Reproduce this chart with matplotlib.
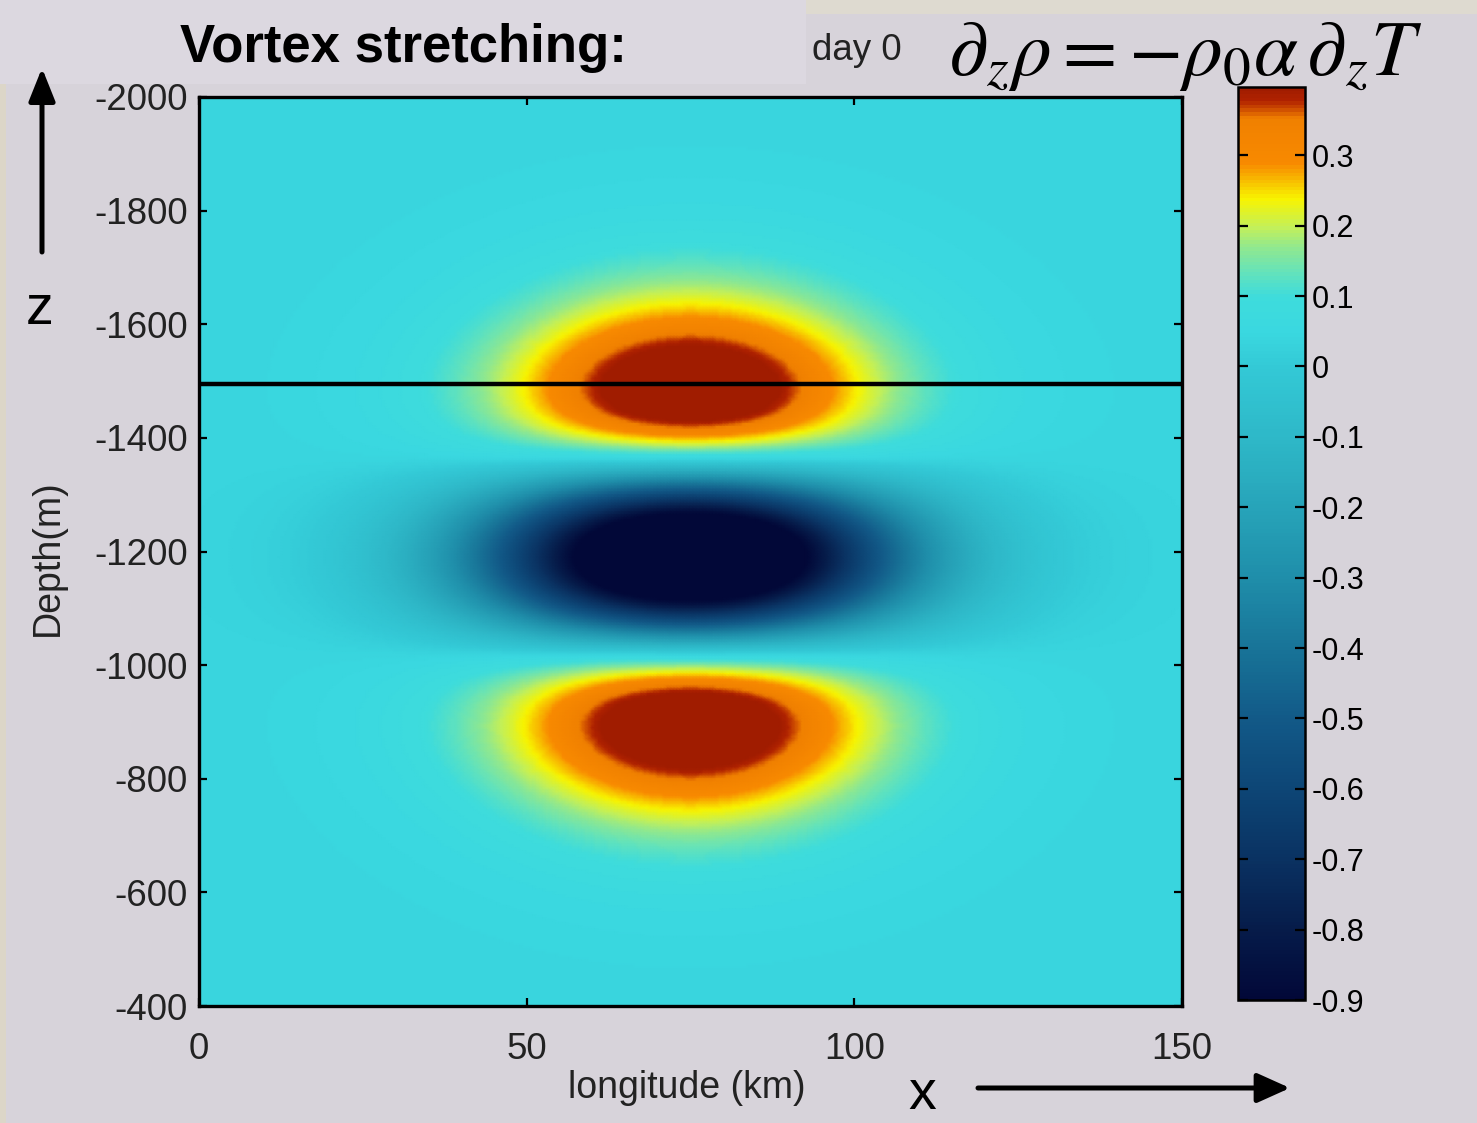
import numpy as np
import matplotlib
matplotlib.use("Agg")
import matplotlib.pyplot as plt
from matplotlib.colors import LinearSegmentedColormap
from matplotlib.patches import FancyArrowPatch, Rectangle

plt.rcParams['font.family'] = ['Liberation Sans', 'DejaVu Sans']
plt.rcParams['mathtext.fontset'] = 'stix'
plt.rcParams['axes.unicode_minus'] = False

# ---------------- data ----------------
x_range_km = [0, 150]
z_range_m = [-2000, -400]
x_ticks = [0, 50, 100, 150]
z_ticks = [-2000, -1800, -1600, -1400, -1200, -1000, -800, -600, -400]
cbar_ticks = [-0.9, -0.8, -0.7, -0.6, -0.5, -0.4, -0.3, -0.2, -0.1, 0, 0.1, 0.2, 0.3]
color_limits = [-0.9, 0.397]

# lens (temperature anomaly) parameters
lens_center_x = 75.0      # km
lens_center_z = -1190.0   # m
lens_sigma_z = 172.0      # m
lobe_sigma_x = 20.0       # km, warm lobes
core_sigma_x = 22.0       # km, cold core
lobe_amplitude = 1.0
core_amplitude = 1.3
background_value = 0.04
section_depth = -1495.0   # black horizontal line

# colormap nodes (value, colour)
cmap_values = [-0.9, -0.8, -0.7, -0.6, -0.5, -0.4, -0.3, -0.2, -0.1, 0.0, 0.05,
               0.1, 0.13, 0.17, 0.2, 0.24, 0.27, 0.29, 0.355, 0.37, 0.38, 0.397]
cmap_colors = ['#020838', '#061c4a', '#0a3262', '#0d4676', '#125a88', '#187498',
               '#1f8eaa', '#27a4b9', '#2eb8c8', '#33c9d6', '#3ad8e0', '#3edcdc',
               '#5ee2c0', '#90e890', '#c4f058', '#f8f400', '#f8b400', '#f88a00',
               '#f08000', '#c84400', '#b02200', '#a01c00']

# ---------------- figure ----------------
W, H = 1477, 1123
fig = plt.figure(figsize=(W / 100, H / 100), dpi=100, facecolor='#d7d3da')


def P(px, py):
    return (px / W, 1 - py / H)


# background screenshot panels
fig.add_artist(Rectangle(P(0, 84), 806 / W, 84 / H, transform=fig.transFigure,
                         facecolor='#dcd8e0', edgecolor='none', zorder=0))
fig.add_artist(Rectangle(P(806, 14), (W - 806) / W, 14 / H, transform=fig.transFigure,
                         facecolor='#dedad0', edgecolor='none', zorder=0))
fig.add_artist(Rectangle(P(0, H), 6 / W, (H - 84) / H, transform=fig.transFigure,
                         facecolor='#dcd6c8', edgecolor='none', zorder=0))

vmin, vmax = color_limits
pos = [(v - vmin) / (vmax - vmin) for v in cmap_values]
cmap = LinearSegmentedColormap.from_list('jetlike', list(zip(pos, cmap_colors)), N=256)

x = np.linspace(x_range_km[0], x_range_km[1], 301)
z = np.linspace(z_range_m[0], z_range_m[1], 321)
X, Z = np.meshgrid(x, z)
s = (Z - lens_center_z) / lens_sigma_z
hz = (s ** 2 - 1) * np.exp(-s ** 2 / 2)
g_lobe = np.exp(-(X - lens_center_x) ** 2 / (2 * lobe_sigma_x ** 2))
g_core = np.exp(-(X - lens_center_x) ** 2 / (2 * core_sigma_x ** 2))
field = background_value + np.where(hz > 0, lobe_amplitude * hz * g_lobe,
                                    core_amplitude * hz * g_core)

ax = fig.add_axes([199 / W, 1 - 1006 / H, (1182 - 199) / W, (1006 - 97) / H])
mesh = ax.pcolormesh(X, Z, field, cmap=cmap, vmin=vmin, vmax=vmax, shading='gouraud')
ax.axhline(section_depth, color='black', lw=3.2)
ax.set_xlim(x_range_km)
ax.set_ylim(z_range_m[1], z_range_m[0])
ax.set_xticks(x_ticks)
ax.set_yticks(z_ticks)
ax.tick_params(direction='in', length=6, width=1.6, top=True, right=True,
               labelsize=26.5, colors='black')
ax.tick_params(axis='y', pad=8)
ax.tick_params(axis='x', pad=19)
for sp in ax.spines.values():
    sp.set_linewidth(2.4)
for lab in ax.get_xticklabels() + ax.get_yticklabels():
    lab.set_color('#222222')

cax = fig.add_axes([1238 / W, 1 - 1000 / H, (1305 - 1238) / W, (1000 - 87) / H])
cb = fig.colorbar(mesh, cax=cax, ticks=cbar_ticks)
cb.ax.set_yticklabels([('%g' % t) for t in cbar_ticks])
cb.ax.tick_params(direction='in', length=7, width=1.6, left=True, right=True,
                  labelsize=22, pad=5)
cb.outline.set_linewidth(1.8)

# texts
fig.text(*P(180, 62), 'Vortex stretching:', fontsize=38, fontweight='bold',
         ha='left', va='baseline')
fig.text(*P(812, 60), 'day 0', fontsize=26.5, color='#222222', ha='left', va='baseline')
fig.text(*P(948, 75), r'$\partial_z\rho = -\rho_0\alpha\,\partial_z T$', fontsize=57,
         ha='left', va='baseline')
fig.text(*P(48, 558), 'Depth(m)', fontsize=27, rotation=90, ha='center', va='center',
         color='#222222')
fig.text(*P(687, 1088), 'longitude (km)', fontsize=27, ha='center', va='center',
         color='#222222')
fig.text(*P(40, 310), 'z', fontsize=40, ha='center', va='center')
fig.text(*P(922, 1095), 'x', fontsize=40, ha='center', va='center')

# arrows
fig.add_artist(FancyArrowPatch(P(42, 252), P(42, 68), transform=fig.transFigure,
                               arrowstyle='-|>,head_length=20,head_width=8',
                               mutation_scale=1, lw=3.6, color='black',
                               shrinkA=0, shrinkB=0))
fig.add_artist(FancyArrowPatch(P(978, 1088), P(1290, 1088), transform=fig.transFigure,
                               arrowstyle='-|>,head_length=20,head_width=9',
                               mutation_scale=1, lw=3.6, color='black',
                               shrinkA=0, shrinkB=0))

fig.savefig('out.png', dpi=100, facecolor=fig.get_facecolor())
